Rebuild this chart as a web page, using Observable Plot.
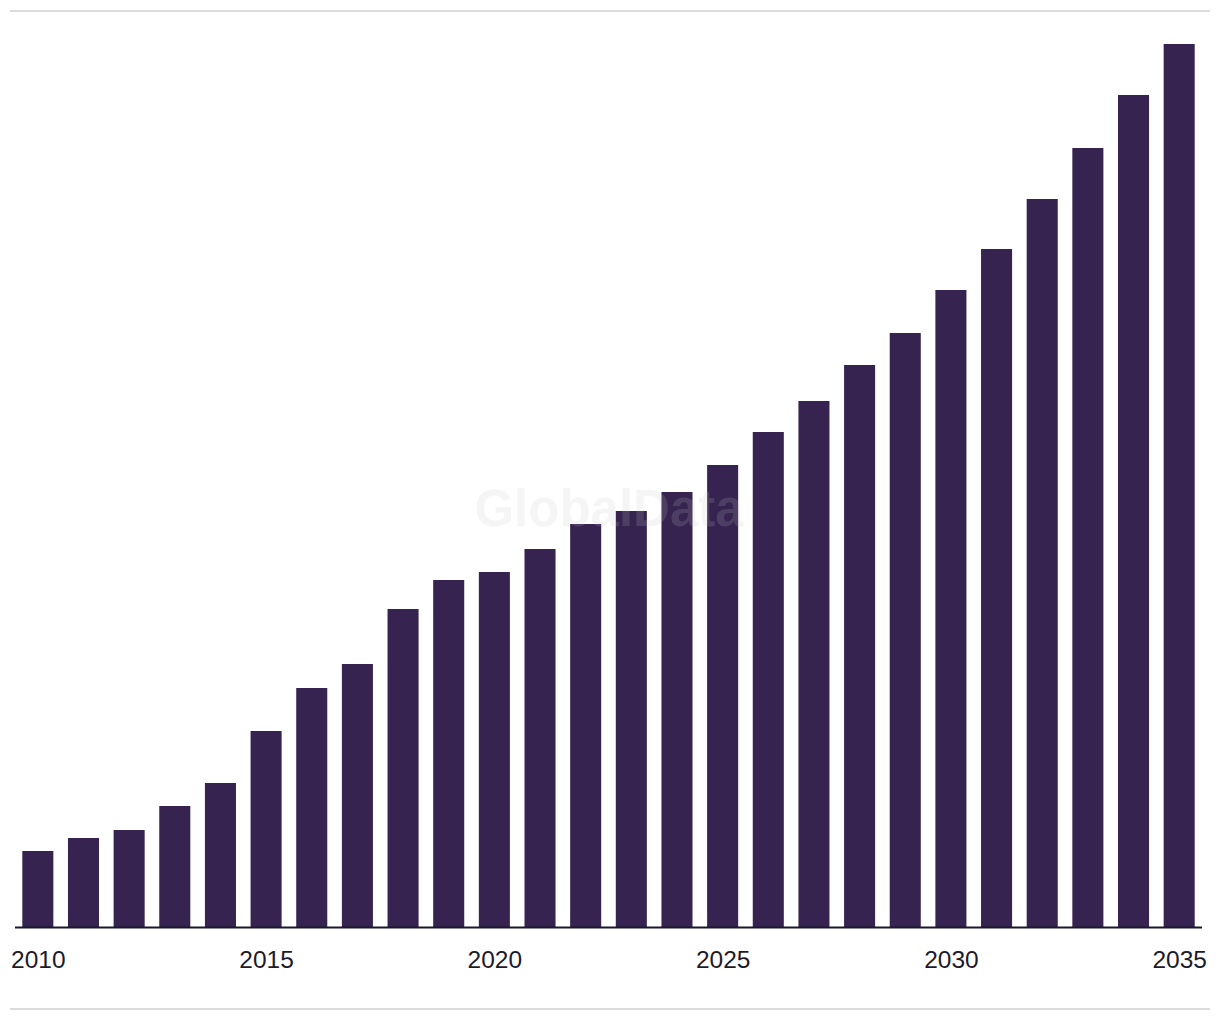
<!DOCTYPE html>
<html>
<head>
<meta charset="utf-8">
<script src="https://cdn.jsdelivr.net/npm/d3@7"></script>
<script src="https://cdn.jsdelivr.net/npm/@observablehq/plot@0.6"></script>
<style>
  html, body { margin: 0; padding: 0; background: #ffffff; }
  #wrap {
    position: relative;
    margin: 10px 0 0 10px;
    width: 1200px;
    border-top: 2px solid #dcdcdc;
    border-bottom: 2px solid #dcdcdc;
  }
  #wrap svg { display: block; }
</style>
</head>
<body>
<div id="wrap"></div>
<script>
const years = [2010, 2011, 2012, 2013, 2014, 2015, 2016, 2017, 2018, 2019, 2020, 2021, 2022,
               2023, 2024, 2025, 2026, 2027, 2028, 2029, 2030, 2031, 2032, 2033, 2034, 2035];
const values = [76, 89, 97, 121, 144, 196, 239, 263, 318, 347, 355, 378, 403,
                416, 435, 462, 495, 526, 562, 594, 637, 678, 728, 779, 832, 883];
const tickYears = [2010, 2015, 2020, 2025, 2030, 2035];
const watermark = ["GlobalData"];

const data = years.map((y, i) => ({year: y, value: values[i]}));

const chart = Plot.plot({
  width: 1200,
  height: 996,
  marginTop: 32,
  marginBottom: 81,
  marginLeft: 5,
  marginRight: 8,
  style: {fontFamily: "'Liberation Sans', Arial, sans-serif", background: "#ffffff"},
  x: {type: "band", domain: years, paddingInner: 0.32, paddingOuter: 0.16, round: false, label: null},
  y: {domain: [0, 883], axis: null},
  marks: [
    Plot.barY(data, {x: "year", y: "value", fill: "#362350"}),
    Plot.text(watermark, {
      text: d => d, frameAnchor: "middle", dx: 0, dy: 24,
      fontSize: 51, fontWeight: "bold", fill: "#c2c2c2", fillOpacity: 0.17
    }),
    Plot.ruleY([0], {stroke: "#1b1730", strokeWidth: 2}),
    Plot.axisX({
      ticks: tickYears, tickSize: 0, tickPadding: 23, fontSize: 24.5,
      fill: "#1d1b2a", tickFormat: d => String(d), label: null
    })
  ]
});
document.getElementById("wrap").appendChild(chart);
</script>
</body>
</html>
